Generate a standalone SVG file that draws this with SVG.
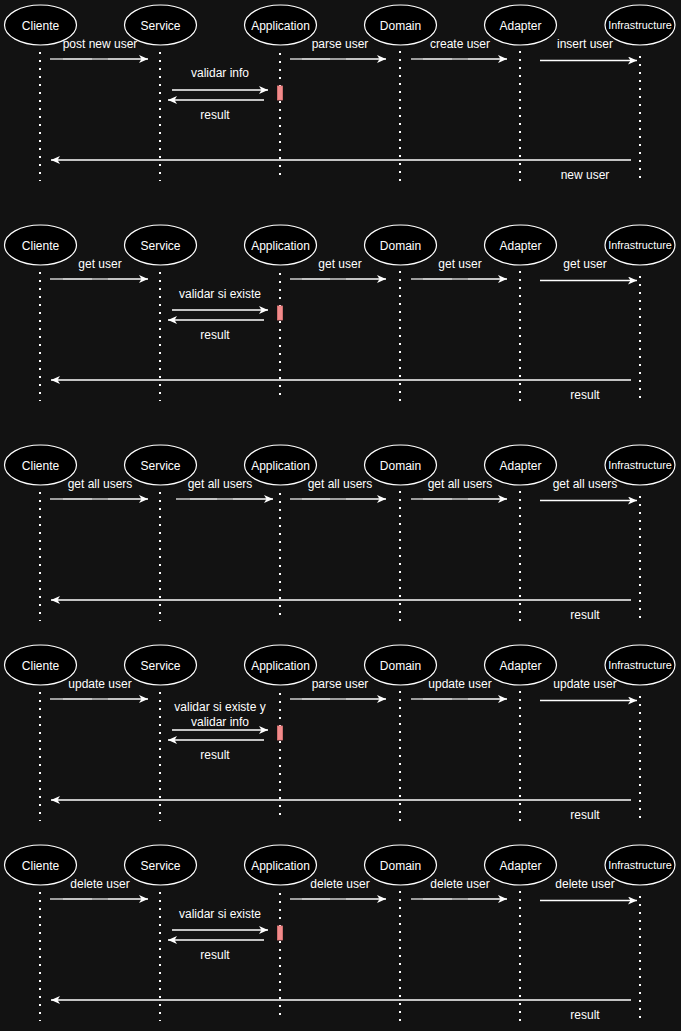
<svg xmlns="http://www.w3.org/2000/svg" width="681" height="1031" viewBox="0 0 681 1031">
  <defs>
    <marker id="arrow" markerUnits="userSpaceOnUse" markerWidth="10" markerHeight="9" refX="9" refY="4" orient="auto">
      <path d="M0,0 L9,4 L0,8 L2.5,4 Z" fill="#ffffff"/>
    </marker>
    <style>
      .bg { fill: #121212; }
      .actor { fill: #000000; stroke: #ffffff; stroke-width: 1.2; }
      .actor-label { fill: #ffffff; font-family: "Liberation Sans", Arial, sans-serif; font-size: 12px; text-anchor: middle; }
      .actor-label.small { font-size: 10.8px; }
      .life { stroke: #ffffff; stroke-width: 2; stroke-dasharray: 2 6; fill: none; }
      .msg { stroke: #ffffff; stroke-width: 1.3; fill: none; marker-end: url(#arrow); }
      .msg-gap { stroke: #8a8a8a; stroke-width: 1.3; }
      .msg-label { fill: #ffffff; font-family: "Liberation Sans", Arial, sans-serif; font-size: 12px; text-anchor: middle; }
      .activation { fill: #f28b8b; stroke: #e37878; stroke-width: 0.8; }
    </style>
    <!-- the six participants with their lifelines, reused by every sequence -->
    <g id="participants">
      <line class="life" x1="40" y1="52" x2="40" y2="181"/>
      <line class="life" x1="160" y1="52" x2="160" y2="181"/>
      <line class="life" x1="280" y1="53" x2="280" y2="181"/>
      <line class="life" x1="400" y1="43" x2="400" y2="181"/>
      <line class="life" x1="520" y1="51" x2="520" y2="181"/>
      <line class="life" x1="640" y1="56" x2="640" y2="181"/>
      <ellipse class="actor" cx="40.5" cy="25" rx="36" ry="20"/>
      <text class="actor-label" x="40.5" y="29.5">Cliente</text>
      <ellipse class="actor" cx="160.5" cy="25" rx="36" ry="20"/>
      <text class="actor-label" x="160.5" y="29.5">Service</text>
      <ellipse class="actor" cx="280.5" cy="25" rx="36" ry="20"/>
      <text class="actor-label" x="280.5" y="29.5">Application</text>
      <ellipse class="actor" cx="400.5" cy="25" rx="36" ry="20"/>
      <text class="actor-label" x="400.5" y="29.5">Domain</text>
      <ellipse class="actor" cx="520.5" cy="25" rx="36" ry="20"/>
      <text class="actor-label" x="520.5" y="29.5">Adapter</text>
      <ellipse class="actor" cx="640" cy="25" rx="35" ry="20"/>
      <text class="actor-label small" x="640" y="29">Infrastructure</text>
    </g>
  </defs>

  <rect class="bg" x="0" y="0" width="681" height="1031"/>

  <!-- create user -->
  <g id="seq-create">
    <use href="#participants"/>
    <rect id="create-activation" class="activation" x="277.5" y="86" width="5" height="14"/>
    <g id="create-connectors">
      <line class="msg" x1="50" y1="59" x2="148" y2="59"/>
      <line class="msg-gap" x1="50" y1="59" x2="63" y2="59"/>
      <line class="msg-gap" x1="92" y1="59" x2="108" y2="59"/>
      <line class="msg" x1="290" y1="59" x2="386" y2="59"/>
      <line class="msg-gap" x1="290" y1="59" x2="302" y2="59"/>
      <line class="msg-gap" x1="330" y1="59" x2="346" y2="59"/>
      <line class="msg" x1="411" y1="59" x2="507" y2="59"/>
      <line class="msg-gap" x1="411" y1="59" x2="423" y2="59"/>
      <line class="msg-gap" x1="452" y1="59" x2="468" y2="59"/>
      <line class="msg" x1="540" y1="60.5" x2="637" y2="60.5"/>
      <line class="msg" x1="172" y1="90" x2="268" y2="90"/>
      <line class="msg" x1="264" y1="100" x2="168" y2="100"/>
      <line class="msg" x1="631" y1="160" x2="51" y2="160"/>
    </g>
    <text class="msg-label" x="100" y="48">post new user</text>
    <text class="msg-label" x="340" y="48">parse user</text>
    <text class="msg-label" x="460" y="48">create user</text>
    <text class="msg-label" x="585" y="48">insert user</text>
    <text class="msg-label" x="220" y="77">validar info</text>
    <text class="msg-label" x="215" y="119">result</text>
    <text class="msg-label" x="585" y="179">new user</text>
  </g>

  <!-- get user -->
  <g id="seq-get" transform="translate(0,220)">
    <use href="#participants"/>
    <rect id="get-activation" class="activation" x="277.5" y="86" width="5" height="14"/>
    <g id="get-connectors">
      <line class="msg" x1="50" y1="59" x2="148" y2="59"/>
      <line class="msg-gap" x1="50" y1="59" x2="63" y2="59"/>
      <line class="msg-gap" x1="92" y1="59" x2="108" y2="59"/>
      <line class="msg" x1="290" y1="59" x2="386" y2="59"/>
      <line class="msg-gap" x1="290" y1="59" x2="302" y2="59"/>
      <line class="msg-gap" x1="330" y1="59" x2="346" y2="59"/>
      <line class="msg" x1="411" y1="59" x2="507" y2="59"/>
      <line class="msg-gap" x1="411" y1="59" x2="423" y2="59"/>
      <line class="msg-gap" x1="452" y1="59" x2="468" y2="59"/>
      <line class="msg" x1="540" y1="60.5" x2="637" y2="60.5"/>
      <line class="msg" x1="172" y1="90" x2="268" y2="90"/>
      <line class="msg" x1="264" y1="100" x2="168" y2="100"/>
      <line class="msg" x1="631" y1="160" x2="51" y2="160"/>
    </g>
    <text class="msg-label" x="100" y="48">get user</text>
    <text class="msg-label" x="340" y="48">get user</text>
    <text class="msg-label" x="460" y="48">get user</text>
    <text class="msg-label" x="585" y="48">get user</text>
    <text class="msg-label" x="220" y="78">validar si existe</text>
    <text class="msg-label" x="215" y="119">result</text>
    <text class="msg-label" x="585" y="179">result</text>
  </g>

  <!-- get all users -->
  <g id="seq-get-all" transform="translate(0,440)">
    <use href="#participants"/>
    <g id="get-all-connectors">
      <line class="msg" x1="50" y1="59" x2="148" y2="59"/>
      <line class="msg-gap" x1="50" y1="59" x2="63" y2="59"/>
      <line class="msg-gap" x1="92" y1="59" x2="108" y2="59"/>
      <line class="msg" x1="176" y1="59" x2="273" y2="59"/>
      <line class="msg-gap" x1="176" y1="59" x2="190" y2="59"/>
      <line class="msg-gap" x1="217" y1="59" x2="233" y2="59"/>
      <line class="msg" x1="290" y1="59" x2="386" y2="59"/>
      <line class="msg-gap" x1="290" y1="59" x2="302" y2="59"/>
      <line class="msg-gap" x1="330" y1="59" x2="346" y2="59"/>
      <line class="msg" x1="411" y1="59" x2="507" y2="59"/>
      <line class="msg-gap" x1="411" y1="59" x2="423" y2="59"/>
      <line class="msg-gap" x1="452" y1="59" x2="468" y2="59"/>
      <line class="msg" x1="540" y1="60.5" x2="637" y2="60.5"/>
      <line class="msg" x1="631" y1="160" x2="51" y2="160"/>
    </g>
    <text class="msg-label" x="100" y="48">get all users</text>
    <text class="msg-label" x="220" y="48">get all users</text>
    <text class="msg-label" x="340" y="48">get all users</text>
    <text class="msg-label" x="460" y="48">get all users</text>
    <text class="msg-label" x="585" y="48">get all users</text>
    <text class="msg-label" x="585" y="179">result</text>
  </g>

  <!-- update user -->
  <g id="seq-update" transform="translate(0,640)">
    <use href="#participants"/>
    <rect id="update-activation" class="activation" x="277.5" y="86" width="5" height="14"/>
    <g id="update-connectors">
      <line class="msg" x1="50" y1="59" x2="148" y2="59"/>
      <line class="msg-gap" x1="50" y1="59" x2="63" y2="59"/>
      <line class="msg-gap" x1="92" y1="59" x2="108" y2="59"/>
      <line class="msg" x1="290" y1="59" x2="386" y2="59"/>
      <line class="msg-gap" x1="290" y1="59" x2="302" y2="59"/>
      <line class="msg-gap" x1="330" y1="59" x2="346" y2="59"/>
      <line class="msg" x1="411" y1="59" x2="507" y2="59"/>
      <line class="msg-gap" x1="411" y1="59" x2="423" y2="59"/>
      <line class="msg-gap" x1="452" y1="59" x2="468" y2="59"/>
      <line class="msg" x1="540" y1="60.5" x2="637" y2="60.5"/>
      <line class="msg" x1="172" y1="90" x2="268" y2="90"/>
      <line class="msg" x1="264" y1="100" x2="168" y2="100"/>
      <line class="msg" x1="631" y1="160" x2="51" y2="160"/>
    </g>
    <text class="msg-label" x="100" y="48">update user</text>
    <text class="msg-label" x="340" y="48">parse user</text>
    <text class="msg-label" x="460" y="48">update user</text>
    <text class="msg-label" x="585" y="48">update user</text>
    <text class="msg-label" x="220" y="71">validar si existe y</text>
    <text class="msg-label" x="220" y="86">validar info</text>
    <text class="msg-label" x="215" y="119">result</text>
    <text class="msg-label" x="585" y="179">result</text>
  </g>

  <!-- delete user -->
  <g id="seq-delete" transform="translate(0,840)">
    <use href="#participants"/>
    <rect id="delete-activation" class="activation" x="277.5" y="86" width="5" height="14"/>
    <g id="delete-connectors">
      <line class="msg" x1="50" y1="59" x2="148" y2="59"/>
      <line class="msg-gap" x1="50" y1="59" x2="63" y2="59"/>
      <line class="msg-gap" x1="92" y1="59" x2="108" y2="59"/>
      <line class="msg" x1="290" y1="59" x2="386" y2="59"/>
      <line class="msg-gap" x1="290" y1="59" x2="302" y2="59"/>
      <line class="msg-gap" x1="330" y1="59" x2="346" y2="59"/>
      <line class="msg" x1="411" y1="59" x2="507" y2="59"/>
      <line class="msg-gap" x1="411" y1="59" x2="423" y2="59"/>
      <line class="msg-gap" x1="452" y1="59" x2="468" y2="59"/>
      <line class="msg" x1="540" y1="60.5" x2="637" y2="60.5"/>
      <line class="msg" x1="172" y1="90" x2="268" y2="90"/>
      <line class="msg" x1="264" y1="100" x2="168" y2="100"/>
      <line class="msg" x1="631" y1="160" x2="51" y2="160"/>
    </g>
    <text class="msg-label" x="100" y="48">delete user</text>
    <text class="msg-label" x="340" y="48">delete user</text>
    <text class="msg-label" x="460" y="48">delete user</text>
    <text class="msg-label" x="585" y="48">delete user</text>
    <text class="msg-label" x="220" y="78">validar si existe</text>
    <text class="msg-label" x="215" y="119">result</text>
    <text class="msg-label" x="585" y="179">result</text>
  </g>
</svg>
